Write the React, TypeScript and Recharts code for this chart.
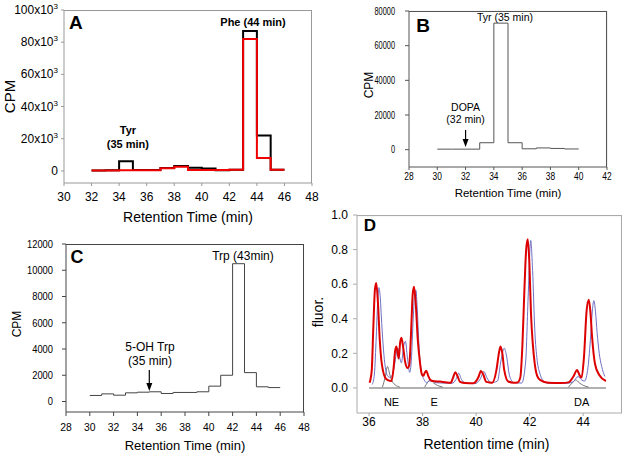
import React from "react";
import { LineChart, Line, XAxis, YAxis, ReferenceLine, ReferenceDot } from "recharts";

const FONT = "'Liberation Sans', Arial, Helvetica, sans-serif";

// Panel A: 1-min fractions, black vs red run
const minutesA = [32, 33, 34, 35, 36, 37, 38, 39, 40, 41, 42, 43, 44, 45, 46];
const cpmBlackA = [200, 500, 6000, 600, 600, 1800, 3100, 1900, 1500, 400, 700, 87000, 22000, 800, 800];
const cpmRedA = [200, 300, 500, 500, 500, 1600, 2600, 600, 600, 600, 700, 82000, 8000, 800, 800];
const xTicksA = [30, 32, 34, 36, 38, 40, 42, 44, 46, 48];
const yTicksA = [0, 20000, 40000, 60000, 80000, 100000];

// Panel B
const minutesB = [30, 31, 32, 33, 34, 35, 36, 37, 38, 39, 40];
const cpmB = [300, 300, 300, 4000, 73000, 4000, 500, 1000, 700, 400, 400];
const xTicksB = [28, 30, 32, 34, 36, 38, 40, 42];
const yTicksB = [0, 20000, 40000, 60000, 80000];

// Panel C
const minutesC = [30, 31, 32, 33, 34, 35, 36, 37, 38, 39, 40, 41, 42, 43, 44, 45, 46];
const cpmC = [460, 580, 480, 660, 710, 740, 610, 690, 690, 740, 1170, 2000, 10500, 2200, 1120, 1060, 1060];
const xTicksC = [28, 30, 32, 34, 36, 38, 40, 42, 44, 46, 48];
const yTicksC = [0, 2000, 4000, 6000, 8000, 10000, 12000];

// Panel D: fluorescence traces [time, fluor]
const redTraceD = [
  [36.02, 0.03], [36.1, 0.1], [36.16, 0.35], [36.22, 0.57], [36.27, 0.607], [36.33, 0.5], [36.4, 0.28],
  [36.46, 0.16], [36.52, 0.1], [36.6, 0.06], [36.7, 0.045], [36.84, 0.04], [36.92, 0.12], [36.97, 0.21],
  [37.02, 0.24], [37.07, 0.2], [37.11, 0.17], [37.16, 0.26], [37.21, 0.29], [37.27, 0.24], [37.35, 0.15],
  [37.44, 0.115], [37.5, 0.13], [37.57, 0.32], [37.63, 0.54], [37.68, 0.585], [37.74, 0.5], [37.82, 0.28],
  [37.9, 0.15], [37.97, 0.08], [38.03, 0.07], [38.09, 0.09], [38.14, 0.1], [38.21, 0.07], [38.3, 0.045],
  [38.45, 0.038], [38.65, 0.037], [38.85, 0.033], [39.05, 0.03], [39.14, 0.06], [39.22, 0.09], [39.3, 0.07],
  [39.4, 0.035], [39.6, 0.028], [39.9, 0.027], [40.08, 0.06], [40.18, 0.098], [40.26, 0.08], [40.38, 0.035],
  [40.6, 0.03], [40.76, 0.104], [40.85, 0.2], [40.91, 0.24], [40.98, 0.2], [41.05, 0.104], [41.2, 0.037],
  [41.4, 0.03], [41.55, 0.032], [41.65, 0.06], [41.73, 0.25], [41.8, 0.55], [41.87, 0.8], [41.93, 0.86],
  [41.99, 0.72], [42.05, 0.43], [42.12, 0.25], [42.19, 0.14], [42.28, 0.07], [42.4, 0.045], [42.7, 0.03],
  [43.2, 0.028], [43.45, 0.032], [43.65, 0.07], [43.77, 0.104], [43.86, 0.075], [43.94, 0.06], [44.03, 0.18],
  [44.13, 0.45], [44.21, 0.51], [44.27, 0.44], [44.33, 0.3], [44.44, 0.14], [44.6, 0.075], [44.85, 0.04],
];
const blueTraceD = [
  [36.12, 0.02], [36.2, 0.08], [36.27, 0.3], [36.33, 0.52], [36.37, 0.58], [36.42, 0.52], [36.46, 0.41],
  [36.52, 0.26], [36.59, 0.14], [36.66, 0.08], [36.72, 0.065], [36.8, 0.06], [36.9, 0.09], [36.97, 0.15],
  [37.03, 0.21], [37.08, 0.23], [37.14, 0.18], [37.21, 0.145], [37.29, 0.24], [37.36, 0.27], [37.43, 0.18],
  [37.52, 0.09], [37.58, 0.16], [37.65, 0.4], [37.71, 0.55], [37.75, 0.565], [37.8, 0.46], [37.86, 0.26],
  [37.96, 0.09], [38.05, 0.05], [38.15, 0.03], [38.25, 0.04], [38.35, 0.04], [38.5, 0.03], [38.8, 0.028],
  [39.1, 0.027], [39.25, 0.05], [39.35, 0.085], [39.45, 0.05], [39.6, 0.028], [39.95, 0.025], [40.15, 0.05],
  [40.29, 0.095], [40.4, 0.06], [40.55, 0.03], [40.8, 0.04], [40.92, 0.15], [41.05, 0.23], [41.13, 0.19],
  [41.25, 0.07], [41.4, 0.032], [41.7, 0.028], [41.85, 0.15], [41.95, 0.55], [42.04, 0.853], [42.11, 0.68],
  [42.19, 0.34], [42.28, 0.16], [42.38, 0.085], [42.55, 0.035], [42.7, 0.027], [43.4, 0.027], [43.62, 0.035],
  [43.81, 0.066], [43.95, 0.045], [44.05, 0.04], [44.18, 0.12], [44.28, 0.3], [44.35, 0.46], [44.4, 0.505],
  [44.46, 0.44], [44.52, 0.32], [44.6, 0.2], [44.69, 0.124], [44.81, 0.066],
];
const neStandardD = [[36.5, 0.005], [36.6, 0.06], [36.69, 0.124], [36.77, 0.08], [36.86, 0.04], [37.0, 0.015], [37.15, 0.005]];
const eStandardD = [[38.08, 0.005], [38.18, 0.03], [38.28, 0.046], [38.4, 0.03], [38.55, 0.015], [38.75, 0.005]];
const daStandardD = [[43.45, 0.005], [43.6, 0.03], [43.72, 0.046], [43.85, 0.03], [44.0, 0.015], [44.2, 0.005]];
const baselineD = [[36.0, 0], [44.85, 0]];
const xTicksD = [36, 38, 40, 42, 44];
const yTicksD = [0, 0.2, 0.4, 0.6, 0.8, 1.0];

const rows = (xs: number[], ys: number[]) => xs.map((x, i) => ({ x, y: ys[i] }));
const pairs = (p: number[][]) => p.map(([x, y]) => ({ x, y }));

function ThousandsTick(props: any) {
  const { x, y, payload } = props;
  const k = payload.value / 1000;
  return (
    <text x={x} y={y} dy={4} textAnchor="end" fontSize={12} fill="#000">
      {k === 0 ? "0" : `${k}x10`}
      {k !== 0 && (
        <tspan dy={-5} fontSize={8}>
          3
        </tspan>
      )}
    </text>
  );
}

// the scanned B and C panels have horizontally squeezed lettering
function NarrowTick(props: any) {
  const { x, y, payload, size, squeeze, axis } = props;
  const anchor = axis === "x" ? "middle" : "end";
  const dy = axis === "x" ? size * 0.72 : size * 0.36;
  return (
    <g transform={`translate(${x},${y}) scale(${squeeze},1)`}>
      <text x={0} y={0} dy={dy} textAnchor={anchor} fontSize={size} fill="#000">
        {payload.value}
      </text>
    </g>
  );
}

const ArrowHead = (p: any) => (
  <path d={`M${p.cx - 3},${p.cy - 8} L${p.cx + 3},${p.cy - 8} L${p.cx},${p.cy} Z`} fill="#000" />
);

function note(key: string, x: number, y: number, text: string, size: number, bold = false) {
  return (
    <ReferenceDot
      key={key}
      x={x}
      y={y}
      r={0}
      stroke="none"
      fill="none"
      label={{ value: text, position: "center", fill: "#000", fontSize: size, fontWeight: bold ? "bold" : "normal" }}
    />
  );
}

// top + right edges of the plot box, as reference segments just inside the domain
function edges(domainX: number[], domainY: number[], color: string) {
  const x0 = domainX[0];
  const x1 = domainX[1] - (domainX[1] - domainX[0]) * 0.002;
  const y0 = domainY[0];
  const y1 = domainY[1] - (domainY[1] - domainY[0]) * 0.003;
  return [
    <ReferenceLine key="edge-top" segment={[{ x: x0, y: y1 }, { x: x1, y: y1 }]} stroke={color} strokeWidth={1} />,
    <ReferenceLine key="edge-right" segment={[{ x: x1, y: y0 }, { x: x1, y: y1 }]} stroke={color} strokeWidth={1} />,
  ];
}

// plain box outline laid over a plot area (backup for the edges above)
function Box({ left, top, right, bottom, color }: { left: number; top: number; right: number; bottom: number; color: string }) {
  return (
    <div
      style={{
        position: "absolute",
        left,
        top,
        width: right - left,
        height: bottom - top,
        boxSizing: "border-box",
        borderTop: `1px solid ${color}`,
        borderRight: `1px solid ${color}`,
        pointerEvents: "none",
      }}
    />
  );
}

function PanelA() {
  const dx = [30, 48];
  const dy = [-7500, 100000];
  return (
    <LineChart width={330} height={230} margin={{ top: 10, right: 18, bottom: 0, left: 0 }}>
      <XAxis
        dataKey="x"
        type="number"
        domain={dx}
        allowDataOverflow
        ticks={xTicksA}
        interval={0}
        height={47}
        tickSize={3}
        tickMargin={6}
        stroke="#999"
        tick={{ fill: "#000", fontSize: 12 }}
        label={{ value: "Retention Time (min)", position: "insideBottom", offset: 8, fill: "#000", fontSize: 14 }}
      />
      <YAxis
        type="number"
        domain={dy}
        allowDataOverflow
        ticks={yTicksA}
        interval={0}
        width={64}
        tickSize={3}
        tickMargin={3}
        stroke="#999"
        tick={<ThousandsTick />}
        label={{ value: "CPM", position: "center", angle: -90, dx: -22, fill: "#000", fontSize: 15 }}
      />
      <Line data={rows(minutesA, cpmBlackA)} dataKey="y" type="stepAfter" stroke="#000" strokeWidth={2} dot={false} activeDot={false} isAnimationActive={false} />
      <Line data={rows(minutesA, cpmRedA)} dataKey="y" type="stepAfter" stroke="#f00000" strokeWidth={2} dot={false} activeDot={false} isAnimationActive={false} />
      {note("a", 30.87, 92500, "A", 19, true)}
      {note("t1", 34.64, 25400, "Tyr", 11, true)}
      {note("t2", 34.64, 16700, "(35 min)", 11, true)}
      {note("p", 43.72, 92500, "Phe (44 min)", 11, true)}
      {edges(dx, dy, "#999")}
    </LineChart>
  );
}

function PanelB() {
  const dx = [28, 42];
  const dy = [-10000, 80000];
  return (
    <LineChart width={304} height={210} margin={{ top: 11, right: 17, bottom: 0, left: 0 }}>
      <XAxis
        dataKey="x"
        type="number"
        domain={dx}
        allowDataOverflow
        ticks={xTicksB}
        interval={0}
        height={43}
        tickSize={3}
        tickMargin={2}
        stroke="#555"
        tick={<NarrowTick axis="x" size={10.5} squeeze={0.8} />}
        label={{ value: "Retention Time (min)", position: "insideBottom", offset: 13, fill: "#000", fontSize: 11.5 }}
      />
      <YAxis
        type="number"
        domain={dy}
        allowDataOverflow
        ticks={yTicksB}
        interval={0}
        width={89}
        tickSize={4}
        tickMargin={10}
        stroke="#555"
        tick={<NarrowTick axis="y" size={10} squeeze={0.74} />}
        label={{ value: "CPM", position: "center", angle: -90, dx: 4, dy: -4, fill: "#000", fontSize: 12 }}
      />
      <Line data={rows(minutesB, cpmB)} dataKey="y" type="stepAfter" stroke="#555" strokeWidth={1} dot={false} activeDot={false} isAnimationActive={false} />
      <ReferenceLine segment={[{ x: 32, y: 11400 }, { x: 32, y: 4000 }]} stroke="#000" strokeWidth={1.2} />
      <ReferenceDot x={32} y={1600} r={0} shape={ArrowHead} />
      {note("b", 28.99, 72000, "B", 19, true)}
      {note("d1", 32, 24600, "DOPA", 10.5)}
      {note("d2", 32, 17700, "(32 min)", 10.5)}
      {note("ty", 34.79, 76600, "Tyr (35 min)", 10.5)}
      {edges(dx, dy, "#555")}
    </LineChart>
  );
}

function PanelC() {
  const dx = [28, 48];
  const dy = [-800, 12000];
  return (
    <LineChart width={320} height={237} margin={{ top: 14, right: 16, bottom: 0, left: 0 }}>
      <XAxis
        dataKey="x"
        type="number"
        domain={dx}
        allowDataOverflow
        ticks={xTicksC}
        interval={0}
        height={55}
        tickSize={4}
        tickMargin={7}
        stroke="#444"
        tick={<NarrowTick axis="x" size={11.5} squeeze={0.9} />}
        label={{ value: "Retention Time (min)", position: "insideBottom", offset: 17, fill: "#000", fontSize: 13 }}
      />
      <YAxis
        type="number"
        domain={dy}
        allowDataOverflow
        ticks={yTicksC}
        interval={0}
        width={66}
        tickSize={4}
        tickMargin={9}
        stroke="#444"
        tick={<NarrowTick axis="y" size={11} squeeze={0.85} />}
        label={{ value: "CPM", position: "center", angle: -90, dx: -16, dy: -4, fill: "#000", fontSize: 12 }}
      />
      <Line data={rows(minutesC, cpmC)} dataKey="y" type="stepAfter" stroke="#444" strokeWidth={1} dot={false} activeDot={false} isAnimationActive={false} />
      <ReferenceLine segment={[{ x: 35, y: 2400 }, { x: 35, y: 1300 }]} stroke="#000" strokeWidth={1.2} />
      <ReferenceDot x={35} y={800} r={0} shape={ArrowHead} />
      {note("c", 28.92, 11010, "C", 18, true)}
      {note("o1", 35.06, 4152, "5-OH Trp", 12)}
      {note("o2", 35.06, 3086, "(35 min)", 12)}
      {note("tr", 42.87, 11086, "Trp (43min)", 12)}
      {edges(dx, dy, "#444")}
    </LineChart>
  );
}

function PanelD() {
  const dx = [35.55, 45.45];
  const dy = [-0.145, 1.0];
  const thin = { dot: false as const, activeDot: false as const, isAnimationActive: false, dataKey: "y", type: "monotone" as const };
  return (
    <LineChart width={324} height={267} margin={{ top: 15, right: 2, bottom: 0, left: 0 }}>
      <XAxis
        dataKey="x"
        type="number"
        domain={dx}
        allowDataOverflow
        ticks={xTicksD}
        interval={0}
        height={54}
        tickSize={3}
        tickMargin={1}
        stroke="#aaa"
        tick={{ fill: "#000", fontSize: 12 }}
        label={{ value: "Retention time (min)", position: "insideBottom", offset: 18, dx: -3, fill: "#000", fontSize: 14 }}
      />
      <YAxis
        type="number"
        domain={dy}
        allowDataOverflow
        ticks={yTicksD}
        interval={0}
        width={57}
        tickSize={4}
        tickMargin={5}
        stroke="#aaa"
        tickFormatter={(v: number) => v.toFixed(1)}
        tick={{ fill: "#000", fontSize: 12 }}
        label={{ value: "fluor.", position: "center", angle: -90, dx: -10, dy: -2, fill: "#000", fontSize: 14 }}
      />
      <Line {...thin} type="linear" data={pairs(baselineD)} stroke="#b0b0b0" strokeWidth={2} />
      <Line {...thin} data={pairs(neStandardD)} stroke="#555" strokeWidth={0.8} />
      <Line {...thin} data={pairs(eStandardD)} stroke="#555" strokeWidth={0.8} />
      <Line {...thin} data={pairs(daStandardD)} stroke="#555" strokeWidth={0.8} />
      <Line {...thin} data={pairs(blueTraceD)} stroke="#6f6fc4" strokeWidth={1} />
      <Line {...thin} data={pairs(redTraceD)} stroke="#dd0000" strokeWidth={2} />
      {note("dl", 36.03, 0.94, "D", 17, true)}
      {note("ne", 36.84, -0.08, "NE", 11)}
      {note("e", 38.43, -0.083, "E", 11)}
      {note("da", 43.94, -0.083, "DA", 11)}
      {edges(dx, dy, "#aaa")}
    </LineChart>
  );
}

export default function App() {
  return (
    <div style={{ position: "absolute", left: 0, top: 0, width: 624, height: 467, background: "#fff", fontFamily: FONT }}>
      <div style={{ position: "absolute", left: 0, top: 0 }}>
        <PanelA />
      </div>
      <div style={{ position: "absolute", left: 320, top: 0 }}>
        <PanelB />
      </div>
      <div style={{ position: "absolute", left: 0, top: 230 }}>
        <PanelC />
      </div>
      <div style={{ position: "absolute", left: 300, top: 200 }}>
        <PanelD />
      </div>
      <Box left={64} top={10} right={312} bottom={183} color="#999" />
      <Box left={409} top={11} right={607} bottom={167} color="#555" />
      <Box left={66} top={244} right={304} bottom={412} color="#444" />
      <Box left={357} top={215} right={622} bottom={413} color="#aaa" />
    </div>
  );
}
